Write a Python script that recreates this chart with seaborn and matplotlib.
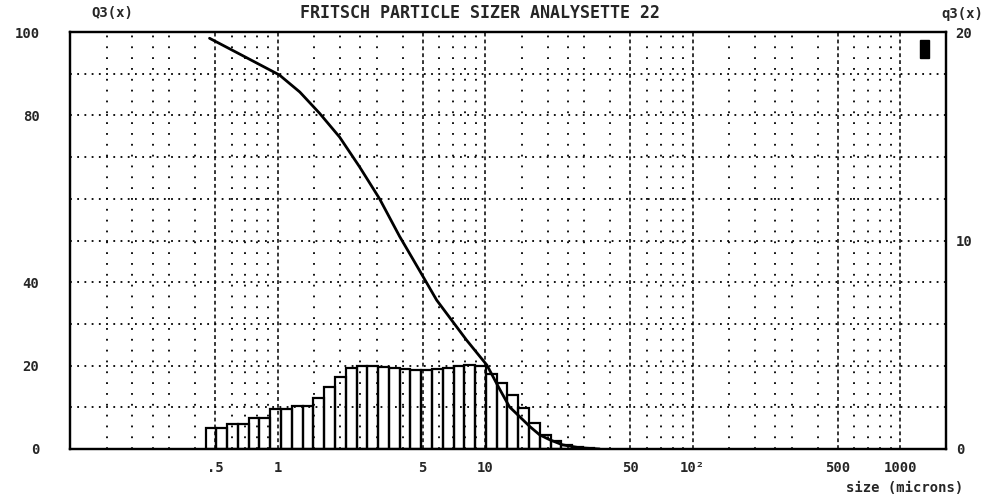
import numpy as np
import pandas as pd
import matplotlib
matplotlib.use("Agg")
import matplotlib.pyplot as plt
import seaborn as sns
from matplotlib.ticker import FixedLocator, FixedFormatter, NullFormatter
from matplotlib.patches import Rectangle

# ---------------- data ----------------
# cumulative undersize curve Q3(x) [%] vs particle size [microns]
size_um = [0.47, 0.693, 1.02, 1.28, 1.594, 1.99, 2.48, 3.10, 3.87, 4.83, 5.84,
           8.14, 10.2, 11.7, 13.1, 14.7, 16.4, 18.3, 20.5, 23.6, 28.5, 35.6]
q3_cum = [98.5, 94.1, 89.7, 85.6, 80.5, 74.8, 67.7, 60.0, 51.0, 42.8, 35.7,
          26.1, 20.1, 14.5, 10.1, 7.7, 5.4, 3.4, 2.2, 1.0, 0.3, 0.0]

# channel edges [microns] and density distribution q3(x) [%] per channel
channel_edges = [0.450, 0.507, 0.571, 0.644, 0.726, 0.818, 0.922, 1.039, 1.171,
                 1.320, 1.488, 1.677, 1.890, 2.130, 2.400, 2.705, 3.049, 3.436,
                 3.873, 4.365, 4.919, 5.544, 6.248, 7.042, 7.936, 8.944, 10.08,
                 11.36, 12.80, 14.43, 16.26, 18.33, 20.66, 23.28, 26.24, 29.57,
                 33.33]
q3_density = [1.02, 1.02, 1.2, 1.2, 1.5, 1.5, 1.9, 1.9, 2.06, 2.06, 2.45, 2.97,
              3.45, 3.9, 4.0, 4.0, 3.95, 3.9, 3.85, 3.8, 3.8, 3.85, 3.9, 4.0,
              4.05, 4.0, 3.6, 3.17, 2.6, 1.97, 1.25, 0.67, 0.38, 0.19, 0.1, 0.05]

x_ticks = [0.5, 1, 5, 10, 50, 100, 500, 1000]
x_tick_labels = [".5", "1", "5", "10", "50", "10²", "500", "1000"]
x_minor = [0.15, 0.2, 0.25, 0.3, 0.4, 0.6, 0.7, 0.8, 0.9,
           1.5, 2, 2.5, 3, 4, 6, 7, 8, 9,
           15, 20, 25, 30, 40, 60, 70, 80, 90,
           150, 200, 250, 300, 400, 600, 700, 800, 900]
left_ticks = [0, 20, 40, 80, 100]
left_tick_labels = ["0", "20", "40", "80", "100"]
left_grid = [10, 30, 50, 60, 70, 90]
right_ticks = [0, 10, 20]
right_tick_labels = ["0", "10", "20"]

title = "FRITSCH PARTICLE SIZER ANALYSETTE 22"

# ---------------- figure ----------------
sns.set_theme(style="white")
plt.rcParams['font.family'] = ['DejaVu Sans Mono', 'DejaVu Sans']
plt.rcParams['font.weight'] = 'bold'

W, H = 983, 496
fig = plt.figure(figsize=(W / 100, H / 100), dpi=100)
fig.patch.set_facecolor("white")
ax = fig.add_axes([70 / W, 1 - 449 / H, 876 / W, 417 / H])
ax2 = ax.twinx()

# histogram (right axis, q3)
centers = [np.sqrt(a * b) for a, b in zip(channel_edges[:-1], channel_edges[1:])]
hist_df = pd.DataFrame({"size": centers, "q3": q3_density})
sns.histplot(data=hist_df, x="size", weights="q3", bins=channel_edges,
             stat="count", fill=False, element="bars", color="black",
             linewidth=1.6, ax=ax2)

# cumulative curve (left axis, Q3)
cum_df = pd.DataFrame({"size": size_um, "Q3": q3_cum})
sns.lineplot(data=cum_df, x="size", y="Q3", color="black", linewidth=2.0,
             sort=True, ax=ax)

ax.set_zorder(ax2.get_zorder() + 1)
ax.patch.set_visible(False)

for a in (ax, ax2):
    a.set_xscale("log")
    a.set_xlim(0.1, 1660)
    a.set_xlabel("")
    a.set_ylabel("")
ax.set_ylim(0, 100)
ax2.set_ylim(0, 20)

# x ticks / grid
ax.xaxis.set_major_locator(FixedLocator(x_ticks))
ax.xaxis.set_major_formatter(FixedFormatter(x_tick_labels))
ax.xaxis.set_minor_locator(FixedLocator(x_minor))
ax.xaxis.set_minor_formatter(NullFormatter())
ax.grid(which="major", axis="x", color="black", linestyle=(0, (2.5, 2)), linewidth=1.1)
ax.grid(which="minor", axis="x", color="black", linestyle=(0, (1, 5)), linewidth=1.3)

# left y ticks / grid
ax.yaxis.set_major_locator(FixedLocator(left_ticks))
ax.yaxis.set_major_formatter(FixedFormatter(left_tick_labels))
ax.yaxis.set_minor_locator(FixedLocator(left_grid))
ax.grid(which="both", axis="y", color="black", linestyle=(0, (1, 3)), linewidth=1.3)

# right y ticks
ax2.yaxis.set_major_locator(FixedLocator(right_ticks))
ax2.yaxis.set_major_formatter(FixedFormatter(right_tick_labels))
ax2.grid(False)

ax.tick_params(axis="x", which="both", length=0, pad=9, labelsize=10)
ax.tick_params(axis="y", which="both", length=0, pad=22, labelsize=10)
ax2.tick_params(axis="y", which="both", length=0, pad=7, labelsize=10)
for lab in ax.get_xticklabels() + ax.get_yticklabels() + ax2.get_yticklabels():
    lab.set_fontweight("bold")

for a in (ax, ax2):
    for s in a.spines.values():
        s.set_color("black")
        s.set_linewidth(1.6)

# header / footer texts
fig.text(480 / W, 1 - 13 / H, title, ha="center", va="center",
         fontsize=12, fontweight="bold")
fig.text(112 / W, 1 - 13 / H, "Q3(x)", ha="center", va="center",
         fontsize=10, fontweight="bold")
fig.text(962 / W, 1 - 14 / H, "q3(x)", ha="center", va="center",
         fontsize=10, fontweight="bold")
fig.text(905 / W, 1 - 488 / H, "size (microns)", ha="center", va="center",
         fontsize=10, fontweight="bold")

# small legend marker in top-right corner
fig.patches.append(Rectangle((920 / W, 1 - 58 / H), 9 / W, 18 / H,
                             transform=fig.transFigure, facecolor="black",
                             edgecolor="black"))

fig.savefig("out.png", dpi=100, facecolor="white")
